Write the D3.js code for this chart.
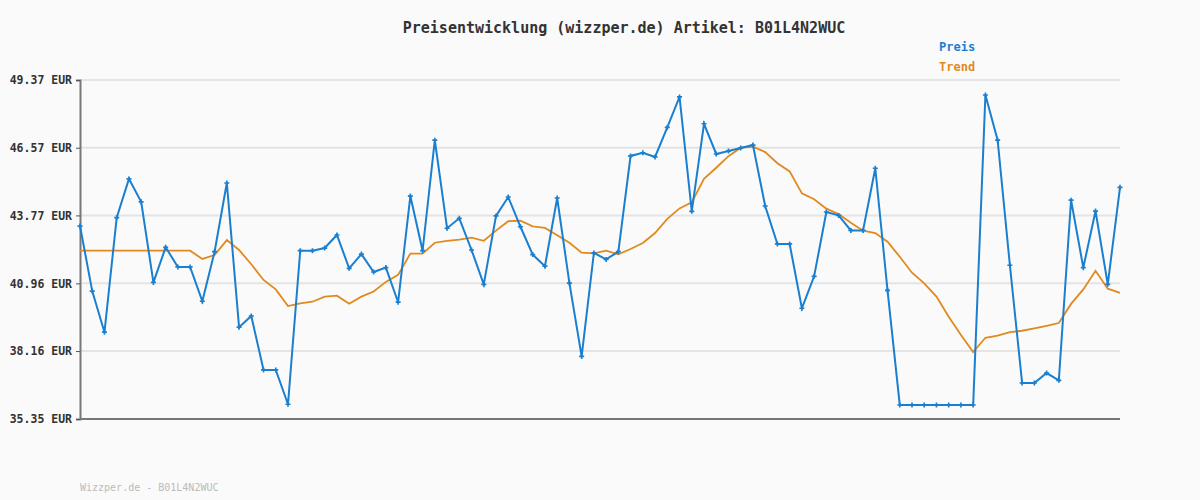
<!DOCTYPE html>
<html><head><meta charset="utf-8">
<script src="https://cdn.jsdelivr.net/npm/d3@7"></script>
<style>body{margin:0;background:#fafafa}svg{display:block}</style>
</head><body>
<script>
const preis = [43.33,40.64,38.94,43.68,45.28,44.33,41.00,42.45,41.64,41.64,
  40.22,42.27,45.11,39.15,39.61,37.38,37.38,35.96,42.31,42.31,
  42.42,42.96,41.58,42.17,41.43,41.61,40.18,44.57,42.31,46.88,
  43.24,43.65,42.34,40.92,43.75,44.53,43.30,42.15,41.67,44.49,
  40.97,37.94,42.22,41.95,42.27,46.23,46.36,46.19,47.41,48.67,
  43.94,47.56,46.31,46.43,46.56,46.68,44.16,42.59,42.59,39.93,
  41.25,43.91,43.77,43.15,43.15,45.72,40.67,35.93,35.93,35.93,
  35.93,35.93,35.93,35.93,48.75,46.88,41.71,36.84,36.84,37.25,
  36.95,44.40,41.61,43.95,40.92,44.93];
const trend = [42.31,42.31,42.31,42.31,42.31,42.31,42.31,42.31,42.31,42.31,
  41.97,42.13,42.75,42.34,41.75,41.10,40.71,40.02,40.13,40.20,
  40.41,40.45,40.12,40.41,40.62,41.02,41.31,42.19,42.19,42.64,
  42.72,42.77,42.85,42.72,43.14,43.53,43.55,43.32,43.25,42.95,
  42.64,42.23,42.20,42.31,42.16,42.38,42.63,43.04,43.63,44.06,
  44.31,45.28,45.74,46.22,46.57,46.61,46.39,45.93,45.59,44.68,
  44.44,44.05,43.83,43.47,43.14,43.04,42.68,42.06,41.40,40.96,
  40.41,39.58,38.82,38.12,38.71,38.80,38.94,39.00,39.10,39.20,
  39.32,40.11,40.71,41.48,40.74,40.57];
const yTicks = [35.35,38.16,40.96,43.77,46.57,49.37];

const W = 1200, H = 500;
const m = {left:80, right:1120, top:80, bottom:419};
const mono = "'DejaVu Sans Mono', monospace";

const svg = d3.select("body").append("svg").attr("width", W).attr("height", H)
  .style("background", "#fafafa");

const x = d3.scaleLinear().domain([0, preis.length - 1]).range([m.left, m.right]);
const y = d3.scaleLinear().domain([35.35, 49.37]).range([m.bottom, m.top]);

svg.append("g").selectAll("line").data(yTicks.slice(1)).enter().append("line")
  .attr("x1", m.left).attr("x2", m.right)
  .attr("y1", d => y(d)).attr("y2", d => y(d))
  .attr("stroke", "#e4e4e4").attr("stroke-width", 2);

const yAxis = svg.append("g").attr("transform", `translate(${m.left},0)`)
  .call(d3.axisLeft(y).tickValues(yTicks).tickSize(4).tickFormat(d => d.toFixed(2) + " EUR"));
yAxis.select(".domain").attr("stroke", "#777").attr("stroke-width", 2);
yAxis.selectAll(".tick line").attr("stroke", "#555");
yAxis.selectAll("text").attr("font-family", mono).attr("font-size", 11.5)
  .attr("font-weight", "bold").attr("fill", "#333").attr("x", -8);

svg.append("line").attr("x1", m.left).attr("x2", m.right)
  .attr("y1", m.bottom).attr("y2", m.bottom).attr("stroke", "#777").attr("stroke-width", 2);

const line = d3.line().x((d, i) => x(i)).y(d => y(d));
svg.append("path").datum(trend).attr("d", line).attr("fill", "none")
  .attr("stroke", "#e08a1e").attr("stroke-width", 1.8);
svg.append("path").datum(preis).attr("d", line).attr("fill", "none")
  .attr("stroke", "#1a7fcf").attr("stroke-width", 2);
svg.append("g").selectAll("path").data(preis).enter().append("path")
  .attr("d", d3.symbol(d3.symbolCross, 14))
  .attr("transform", (d, i) => `translate(${x(i)},${y(d)})`)
  .attr("fill", "#1a7fcf");

svg.append("text").attr("x", 624).attr("y", 33).attr("text-anchor", "middle")
  .attr("font-family", mono).attr("font-size", 15).attr("font-weight", "bold").attr("fill", "#333")
  .text("Preisentwicklung (wizzper.de) Artikel: B01L4N2WUC");
svg.append("text").attr("x", 939).attr("y", 51).attr("font-family", mono)
  .attr("font-size", 12).attr("font-weight", "bold").attr("fill", "#1a7fcf").text("Preis");
svg.append("text").attr("x", 939).attr("y", 71).attr("font-family", mono)
  .attr("font-size", 12).attr("font-weight", "bold").attr("fill", "#e08a1e").text("Trend");
svg.append("text").attr("x", 80).attr("y", 491).attr("font-family", mono)
  .attr("font-size", 10).attr("fill", "#bbb").text("Wizzper.de - B01L4N2WUC");
</script>
</body></html>
